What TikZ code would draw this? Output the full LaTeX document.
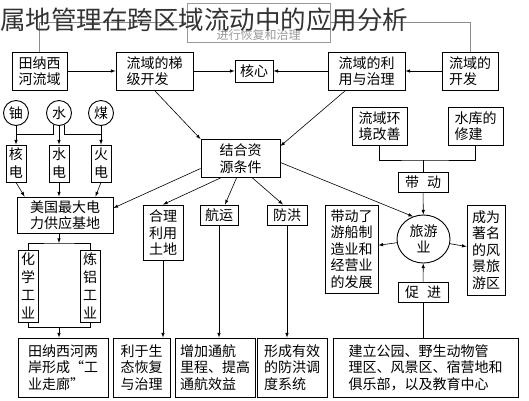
\documentclass[tikz,border=0pt]{standalone}
\usepackage{fontspec}
\newfontfamily\cjk{Noto Sans CJK SC}
\usepackage{tikz}
\usetikzlibrary{shapes,calc}

\begin{document}
\begin{tikzpicture}[x=1pt,y=-1pt,inner sep=1pt,>=latex,line width=0.6pt]
\tikzstyle{every node}=[font=\cjk\fontsize{14}{16.5}\selectfont,align=left]
\tikzstyle{box}=[draw,line width=0.9pt]
\tikzstyle{tall}=[box,minimum width=20,font=\cjk\fontsize{14}{18}\selectfont]
\tikzstyle{ring}=[draw,circle,line width=0.9pt,minimum size=25]
\tikzstyle{gline}=[draw=black!45,line width=0.8pt]
\useasboundingbox (0,0) rectangle (529,400);

% top row
\node[box,draw=black!40,minimum width=143,minimum height=39] (zhili) at (258.5,22.5) {};
\node[text=black!40,font=\cjk\fontsize{12}{14}\selectfont] (zhilitxt) at (258.5,35) {进行恢复和治理};
\node[box,minimum width=55,minimum height=38] (tnx) at (39.5,71) {田纳西\\河流域};
\node[box,minimum width=77,minimum height=38] (tiji) at (154.5,71) {流域的梯\\级开发};
\node[box,minimum width=38,minimum height=22] (hexin) at (254,71) {核心};
\node[box,minimum width=77,minimum height=38] (liyong) at (366.5,71) {流域的利\\用与治理};
\node[box,minimum width=56,minimum height=38] (kaifa) at (470,71) {流域的\\开发};
\draw[->] (tnx) -- (tiji);
\draw[->] (tiji) -- (hexin);
\draw[->] (liyong) -- (hexin);
\draw[->] (kaifa) -- (liyong);
\draw[gline,->] (tnx.north) |- (zhili.west);
\draw[gline] (kaifa.north) |- (zhili.east);

\node[box,minimum width=79,minimum height=38] (jiehe) at (240.5,158.5) {结合资\\源条件};
\draw[->] (tiji.south) -- (jiehe.north west);
\draw[->] ([xshift=-21pt]liyong.south) -- ([yshift=-7pt]jiehe.north east);

% power
\node[ring] (you) at (16,113) {铀};
\node[ring] (shui) at (59,113) {水};
\node[ring] (mei) at (101,113) {煤};
\node[tall,minimum height=37] (hedian) at (16,163.5) {核\\电};
\node[tall,minimum height=37] (shuidian) at (59,163.5) {水\\电};
\node[tall,minimum height=37] (huodian) at (101,163.5) {火\\电};
\draw[->] (you) -- (hedian);
\draw[->] (shui) -- (shuidian);
\draw[->] (mei) -- (huodian);
\draw (shui.245) |- ($(you.south)!.45!(hedian.north)$);
\draw (shui.295) |- ($(mei.south)!.45!(huodian.north)$);

\node[box,minimum width=96,minimum height=36] (meiguo) at (65,215) {美国最大电\\力供应基地};
\draw[->] (hedian.south) -- ([xshift=8pt]meiguo.north west);
\draw[->] (shuidian.south) -- (shuidian.south |- meiguo.north);
\draw[->] (huodian.south) -- ([xshift=-18pt]meiguo.north east);
\draw[->] ([yshift=-10pt]jiehe.west) -- ([yshift=7pt]meiguo.east);

\node[tall,minimum height=72] (huaxue) at (28,286) {化\\学\\工\\业};
\node[tall,minimum height=72] (lianlv) at (90,286) {炼\\铝\\工\\业};
\coordinate (gj) at (59,243);
\coordinate (hj) at (59,327);
\draw[->] (meiguo.south -| gj) -- (gj);
\draw (huaxue.north) |- (gj) -| (lianlv.north);
\draw (huaxue.south) |- (hj) -| (lianlv.south);

% middle row
\node[box,minimum width=40,minimum height=55] (tudi) at (163,232.5) {合理\\利用\\土地};
\node[box,minimum width=38,minimum height=20] (hangyun) at (219,215) {航运};
\node[box,minimum width=40,minimum height=20] (fanghong) at (287,215) {防洪};
\node[box,minimum width=53,minimum height=88] (chuanzhi) at (351.5,249) {带动了\\游船制\\造业和\\经营业\\的发展};
\node[draw,ellipse,line width=0.9pt,minimum width=53,minimum height=48,align=center] (lvyou) at (423.5,239) {旅游\\业};
\node[box,minimum width=38,minimum height=90] (fengjing) at (486,250) {成为\\著名\\的风\\景旅\\游区};
\draw[->] ([xshift=-20pt]jiehe.south) -- (tudi.north);
\draw[->] ([xshift=-4pt]jiehe.south) -- ([xshift=6pt]hangyun.north);
\draw[->] ([xshift=12pt]jiehe.south) -- ([xshift=-4pt]fanghong.north);
\draw[->] ([yshift=-4pt]jiehe.east) -- (lvyou.115);
\draw[->] (lvyou) -- (chuanzhi);
\draw[->] (lvyou) -- (fengjing);

\node[box,minimum width=55,minimum height=38] (huanjing) at (379.5,126) {流域环\\境改善};
\node[box,minimum width=55,minimum height=38] (shuiku) at (475.5,126) {水库的\\修建};
\node[box,minimum width=50,minimum height=20] (daidong) at (423,182) {带\hspace{8pt}动};
\node[box,minimum width=50,minimum height=20] (cujin) at (423,292) {促\hspace{8pt}进};
\coordinate (tj) at (423,160);
\draw (huanjing.south) |- (tj) -| (shuiku.south);
\draw (tj) -- (daidong.north);
\draw[->] (daidong) -- (lvyou);
\draw[->] (cujin) -- (lvyou);

% bottom row
\node[box,minimum width=90,minimum height=59] (zoulang) at (63,367.5) {田纳西河两\\岸形成“工\\业走廊”};
\node[box,minimum width=57,minimum height=59] (shengtai) at (141.5,367.5) {利于生\\态恢复\\与治理};
\node[box,minimum width=80,minimum height=59] (tonghang) at (215,367.5) {增加通航\\里程、提高\\通航效益};
\node[box,minimum width=70,minimum height=59] (tiaodu) at (292,367.5) {形成有效\\的防洪调\\度系统};
\node[box,minimum width=185,minimum height=59] (gongyuan) at (425.5,367.5) {建立公园、野生动物管\\理区、风景区、宿营地和\\俱乐部，以及教育中心};
\draw[->] (hj) -- (hj |- zoulang.north);
\draw[->] (tudi.south) -- (tudi.south |- shengtai.north);
\draw[->] (hangyun.south) -- (hangyun.south |- tonghang.north);
\draw[->] (fanghong.south) -- (fanghong.south |- tiaodu.north);
\draw (cujin.south) -- (cujin.south |- gongyuan.north);

\node[anchor=west,inner sep=0pt,text=black!80,font=\cjk\fontsize{25.5}{28}\selectfont] (biaoti) at (0,20) {属地管理在跨区域流动中的应用分析};
\end{tikzpicture}
\end{document}
